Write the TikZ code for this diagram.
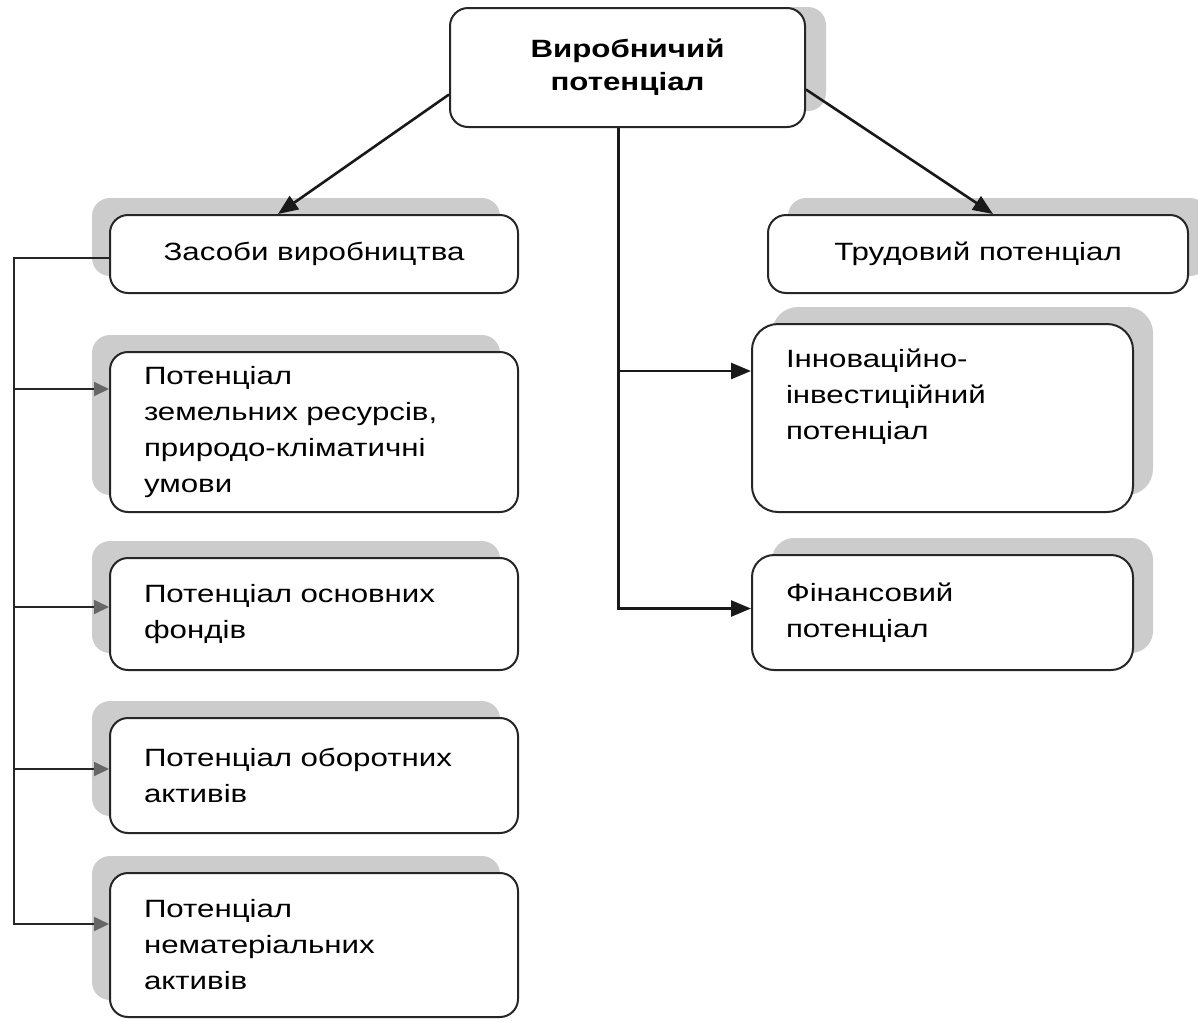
\documentclass[tikz,border=0pt]{standalone}
\usepackage{fontspec}
\setmainfont{Liberation Sans}[FakeStretch=1.25]
\usetikzlibrary{shadows,arrows.meta,backgrounds}

\tikzset{
    box/.style={rectangle, draw=black!85, line width=2pt, fill=white, rounded corners=18pt, font=\fontsize{25}{36}\selectfont},
    lshadow/.style={drop shadow={shadow xshift=-18pt, shadow yshift=17pt, fill=gray!40, opacity=1}},
    rshadow/.style={drop shadow={shadow xshift=20pt, shadow yshift=17pt, fill=gray!40, opacity=1}},
    link/.style={line width=2.6pt, black!90, -{Triangle[length=20pt,width=16pt]}},
    bus/.style={line width=1.8pt, black!85},
    branch/.style={bus, -{Triangle[length=15pt,width=14pt,color=black!60]}},
}

\begin{document}
\begin{tikzpicture}[x=1pt,y=-1pt]
    \useasboundingbox (0,0) rectangle (1198,1021);

    % top
    \node(prod) [box, minimum width=355pt, minimum height=119pt, align=center, font=\fontsize{25}{33}\selectfont\bfseries] at (627.5,67.5) {Виробничий\\потенціал};
    \begin{scope}[on background layer]
        \fill[gray!40, rounded corners=18pt] ([xshift=20pt]prod.north west) rectangle ([xshift=20pt,yshift=17pt]prod.south east);
    \end{scope}

    % left column
    \node(sz) [box, lshadow, minimum width=408pt, minimum height=78pt] at (314,254) {Засоби виробництва};
    \node(land) [box, lshadow, minimum width=408pt, minimum height=160pt, text width=340pt, align=left] at (314,432) {Потенціал\\земельних ресурсів,\\природо-кліматичні\\умови};
    \node(fund) [box, lshadow, minimum width=408pt, minimum height=112pt, text width=340pt, align=left] at (314,614) {Потенціал основних\\фондів};
    \node(turn) [box, lshadow, minimum width=408pt, minimum height=115pt, text width=340pt, align=left] at (314,775.5) {Потенціал оборотних\\активів};
    \node(nemat) [box, lshadow, minimum width=408pt, minimum height=144pt, text width=340pt, align=left] at (314,945) {Потенціал\\нематеріальних\\активів};

    % right column
    \node(trud) [box, rshadow, minimum width=420pt, minimum height=78pt] at (978,254) {Трудовий потенціал};
    \node(innov) [box, rshadow, rounded corners=26pt, minimum width=381pt, minimum height=188pt, text width=313pt, align=left] at (942.5,418) {Інноваційно-\\інвестиційний\\потенціал\\ \strut};
    \node(fin) [box, rshadow, rounded corners=22pt, minimum width=381pt, minimum height=115pt, text width=313pt, align=left] at (942.5,612.5) {Фінансовий\\потенціал};

    % connectors
    \draw[link] ([yshift=-27pt]prod.west) -- ([xshift=-36pt]sz.north);
    \draw[link] ([yshift=-22pt]prod.east) -- ([xshift=15pt]trud.north);

    \coordinate (rbus) at ([xshift=-9pt]prod.south);
    \path ([yshift=-48pt]innov.north west) coordinate (innov-in);
    \path ([yshift=4pt]fin.west) coordinate (fin-in);
    \draw[link] (rbus) |- (fin-in);
    \draw[link] (rbus |- innov-in) -- (innov-in);

    \coordinate (lbot) at (14,925);
    \draw[bus] ([yshift=-4pt]sz.west) -| (lbot);
    \foreach \n/\d in {land/38pt, fund/50pt, turn/52pt, nemat/52pt}{
        \path ([yshift=-\d]\n.north west) coordinate (\n-in);
        \draw[branch] (lbot |- \n-in) -- (\n-in);
    }
\end{tikzpicture}
\end{document}
